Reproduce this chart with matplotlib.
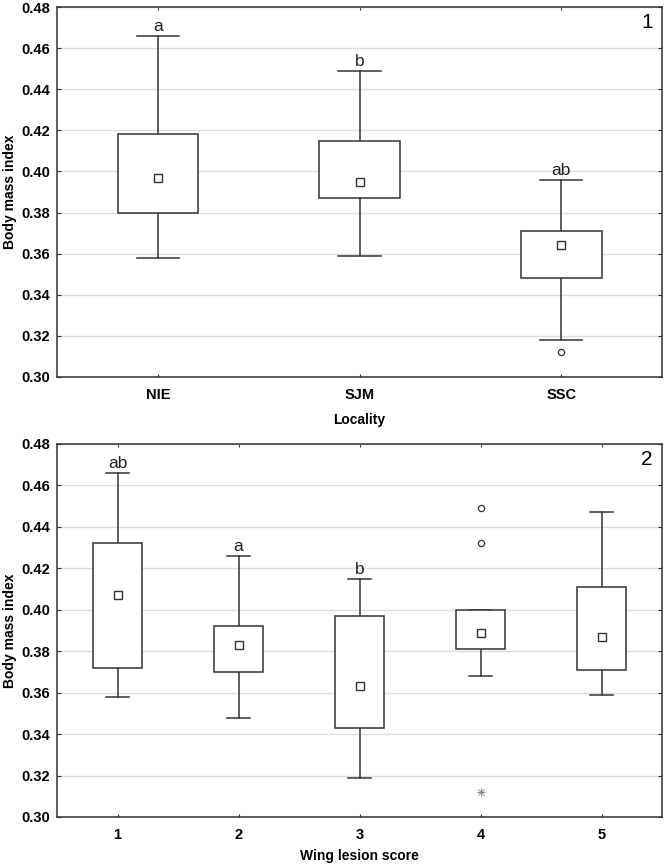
import numpy as np
import matplotlib.pyplot as plt

plt.rcParams['font.family'] = ['Liberation Sans', 'DejaVu Sans']

# panel 1 - locality
loc_names = ['NIE', 'SJM', 'SSC']
loc_low = [0.358, 0.359, 0.318]
loc_q1 = [0.380, 0.387, 0.348]
loc_q3 = [0.418, 0.415, 0.371]
loc_high = [0.466, 0.449, 0.396]
loc_mean = [0.397, 0.395, 0.364]
loc_letters = ['a', 'b', 'ab']
loc_out_x = [2]
loc_out_y = [0.312]

# panel 2 - wing lesion score
wls_names = ['1', '2', '3', '4', '5']
wls_low = [0.358, 0.348, 0.319, 0.368, 0.359]
wls_q1 = [0.372, 0.370, 0.343, 0.381, 0.371]
wls_q3 = [0.432, 0.392, 0.397, 0.400, 0.411]
wls_high = [0.466, 0.426, 0.415, 0.400, 0.447]
wls_mean = [0.407, 0.383, 0.363, 0.389, 0.387]
wls_letters = ['ab', 'a', 'b', '', '']
wls_out_x = [4, 4]
wls_out_y = [0.449, 0.432]
wls_ext_x = [4]
wls_ext_y = [0.312]

yticks = np.arange(0.30, 0.481, 0.02)
lc = '#333333'


def draw_boxes(ax, pos, low, q1, q3, high, mean, letters, bw, cw):
    for i in range(len(pos)):
        x = pos[i]
        ax.add_patch(plt.Rectangle((x - bw/2, q1[i]), bw, q3[i] - q1[i],
                                   fill=True, facecolor='white', edgecolor=lc, lw=1.1, zorder=3))
        ax.plot([x, x], [q3[i], high[i]], color=lc, lw=1.1, zorder=2)
        ax.plot([x, x], [low[i], q1[i]], color=lc, lw=1.1, zorder=2)
        ax.plot([x - cw/2, x + cw/2], [high[i], high[i]], color=lc, lw=1.1, zorder=2)
        ax.plot([x - cw/2, x + cw/2], [low[i], low[i]], color=lc, lw=1.1, zorder=2)
        if letters[i]:
            ax.text(x, high[i] + 0.0010, letters[i], ha='center', va='bottom', fontsize=12.5, color='#222222')
    ax.plot(pos, mean, ls='none', marker='s', ms=5.5, mfc='white', mec=lc, mew=1.0, zorder=4)


def style_ax(ax):
    ax.set_ylim(0.30, 0.48)
    ax.set_yticks(yticks)
    ax.set_yticklabels(['%.2f' % v for v in yticks], fontweight='bold', fontsize=10.5)
    ax.grid(axis='y', color='#dddddd', lw=1.0, zorder=0)
    ax.set_axisbelow(True)
    ax.tick_params(axis='y', direction='in', left=True, right=True, length=3, color=lc, pad=5)
    ax.tick_params(axis='x', direction='in', top=True, bottom=True, length=2.5, color=lc, pad=8)
    for s in ax.spines.values():
        s.set_color(lc)
        s.set_linewidth(1.1)
    ax.set_ylabel('Body mass index', fontweight='bold', fontsize=10)
    ax.yaxis.set_label_coords(-0.066, 0.5)


fig = plt.figure(figsize=(6.66, 8.68), dpi=100)

ax1 = fig.add_axes([0.0856, 0.5657, 0.9084, 0.4262])
pos1 = np.arange(len(loc_names))
draw_boxes(ax1, pos1, loc_low, loc_q1, loc_q3, loc_high, loc_mean, loc_letters, 0.4, 0.21)
ax1.plot(loc_out_x, loc_out_y, ls='none', marker='o', ms=4.5, mfc='white', mec=lc, mew=0.9)
ax1.set_xlim(-0.5, 2.5)
ax1.set_xticks(pos1)
ax1.set_xticklabels(loc_names, fontweight='bold', fontsize=10.5)
style_ax(ax1)
ax1.set_xlabel('Locality', fontweight='bold', fontsize=10, labelpad=8)
ax1.text(0.985, 0.985, '1', transform=ax1.transAxes, ha='right', va='top', fontsize=15)

ax2 = fig.add_axes([0.0856, 0.0588, 0.9084, 0.4297])
pos2 = np.arange(1, len(wls_names) + 1)
draw_boxes(ax2, pos2, wls_low, wls_q1, wls_q3, wls_high, wls_mean, wls_letters, 0.4, 0.19)
ax2.plot(wls_out_x, wls_out_y, ls='none', marker='o', ms=4.5, mfc='white', mec=lc, mew=0.9)
ax2.plot(wls_ext_x, wls_ext_y, ls='none', marker='+', ms=6, mec='#888888', mew=0.8)
ax2.plot(wls_ext_x, wls_ext_y, ls='none', marker='x', ms=4, mec='#888888', mew=0.6)
ax2.set_xlim(0.5, 5.5)
ax2.set_xticks(pos2)
ax2.set_xticklabels(wls_names, fontweight='bold', fontsize=10.5)
style_ax(ax2)
ax2.set_xlabel('Wing lesion score', fontweight='bold', fontsize=10, labelpad=5)
ax2.text(0.985, 0.985, '2', transform=ax2.transAxes, ha='right', va='top', fontsize=15)

fig.savefig('out.png', dpi=100)
